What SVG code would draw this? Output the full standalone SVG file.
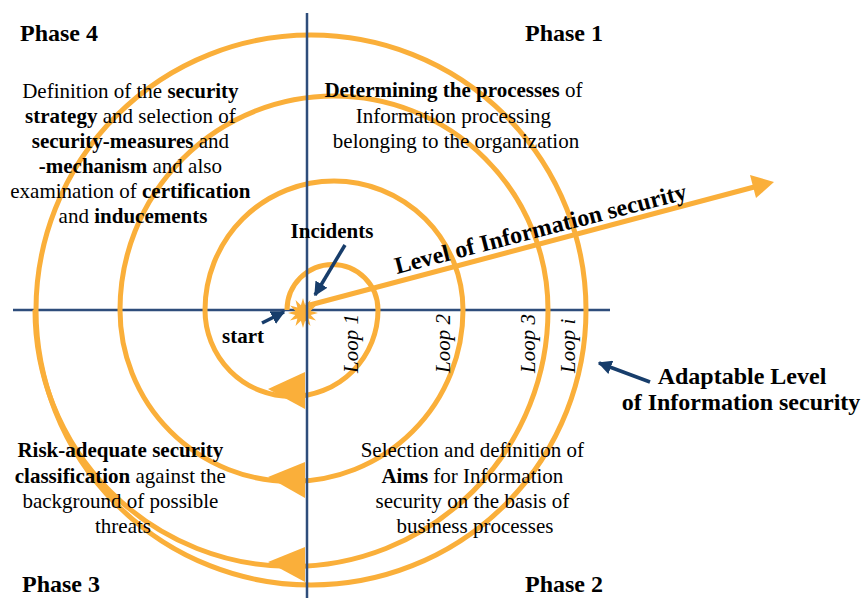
<svg xmlns="http://www.w3.org/2000/svg" width="866" height="598" viewBox="0 0 866 598">
<style>
.h{font-size:24px;font-weight:bold}
.b{font-size:21px}
.bold{font-weight:bold}
.loop{font-size:21px;font-style:italic}
.sp{fill:none;stroke:#FAAF3A;stroke-width:5}
.ax{stroke:#2E4D7B;stroke-width:2.5;fill:none}
.bl{stroke:#173D6B;stroke-width:3.5;fill:none}
.tri{fill:#FAAF3A}
</style>
<defs>
<marker id="ah" viewBox="0 0 10 10" refX="9" refY="5" markerWidth="4" markerHeight="4" orient="auto" markerUnits="strokeWidth">
<path d="M0,0 L10,5 L0,10 z" fill="#173D6B"/>
</marker>
</defs>
<rect width="866" height="598" fill="#fff"/>
<g id="axis-h"><line class="ax" x1="13" y1="310" x2="610" y2="310"/></g>
<g id="spiral">
<path class="sp" d="M287,310 A45.5,45.5 0 0 1 378,310 A86.5,86.5 0 0 1 205,310 A129,129 0 0 1 463,310 A171.5,171.5 0 0 1 120,310 A214,214 0 0 1 548,310 A256.5,256.5 0 0 1 35,310"/>
<circle class="sp" cx="311" cy="310" r="275"/>
<polygon class="tri" points="305,372 305,409 268,389"/>
<polygon class="tri" points="305,462 305,498 268,477"/>
<polygon class="tri" points="305,547 305,582 268,562"/>
</g>
<g id="level-arrow">
<line x1="306" y1="306" x2="758" y2="186" stroke="#FAAF3A" stroke-width="5"/>
<polygon class="tri" points="774,182 750,175 756,198"/>
</g>
<g id="star">
<polygon fill="#FAAF3A" points="318,313 310.7,315.1 316,320.5 308.6,318.6 310.5,326 305.1,320.7 303,328 300.9,320.7 295.5,326 297.4,318.6 290,320.5 295.3,315.1 288,313 295.3,310.9 290,305.5 297.4,307.4 295.5,300 300.9,305.3 303,298 305.1,305.3 310.5,300 308.6,307.4 316,305.5 310.7,310.9"/>
</g>
<g id="axis-v"><line class="ax" x1="307" y1="13" x2="307" y2="598"/></g>
<g id="connectors">
<line class="bl" x1="345" y1="245" x2="315" y2="295" marker-end="url(#ah)"/>
<line class="bl" x1="262" y1="323" x2="284" y2="312" marker-end="url(#ah)"/>
<line class="bl" x1="650" y1="382" x2="599" y2="363" marker-end="url(#ah)"/>
</g>
<g id="phase4">
<text class="h" font-family="Liberation Serif, serif" x="20" y="41">Phase 4</text>
<text class="b" font-family="Liberation Serif, serif" text-anchor="middle">
<tspan x="133" y="98">Definition of the <tspan class="bold">security</tspan></tspan>
<tspan x="133" y="123"><tspan class="bold">strategy</tspan> and selection of</tspan>
<tspan x="133" y="148"><tspan class="bold">security-measures</tspan> and</tspan>
<tspan x="133" y="173"><tspan class="bold">-mechanism</tspan> and also</tspan>
<tspan x="133" y="198">examination of <tspan class="bold">certification</tspan></tspan>
<tspan x="133" y="223">and <tspan class="bold">inducements</tspan></tspan>
</text>
</g>
<g id="phase1">
<text class="h" font-family="Liberation Serif, serif" x="525" y="41">Phase 1</text>
<text class="b" font-family="Liberation Serif, serif" text-anchor="middle">
<tspan x="456" y="97"><tspan class="bold">Determining the processes</tspan> of</tspan>
<tspan x="456" y="123">Information processing</tspan>
<tspan x="456" y="148">belonging to the organization</tspan>
</text>
</g>
<g id="phase3">
<text class="h" font-family="Liberation Serif, serif" x="22" y="592">Phase 3</text>
<text class="b" font-family="Liberation Serif, serif" text-anchor="middle">
<tspan x="123" y="457"><tspan class="bold">Risk-adequate security</tspan></tspan>
<tspan x="123" y="483"><tspan class="bold">classification</tspan> against the</tspan>
<tspan x="123" y="508">background of possible</tspan>
<tspan x="123" y="533">threats</tspan>
</text>
</g>
<g id="phase2">
<text class="h" font-family="Liberation Serif, serif" x="525" y="592">Phase 2</text>
<text class="b" font-family="Liberation Serif, serif" text-anchor="middle">
<tspan x="475" y="457">Selection and definition of</tspan>
<tspan x="475" y="483"><tspan class="bold">Aims</tspan> for Information</tspan>
<tspan x="475" y="508">security on the basis of</tspan>
<tspan x="475" y="533">business processes</tspan>
</text>
</g>
<g id="incidents"><text class="b bold" font-family="Liberation Serif, serif" x="332" y="238" text-anchor="middle">Incidents</text></g>
<g id="start"><text class="b bold" font-family="Liberation Serif, serif" x="243" y="343" text-anchor="middle">start</text></g>
<g id="level-label"><text class="h" font-family="Liberation Serif, serif" transform="translate(397,274) rotate(-14.5)">Level of Information security</text></g>
<g id="adaptable">
<text class="h" font-family="Liberation Serif, serif" text-anchor="middle"><tspan x="742" y="384">Adaptable Level</tspan><tspan x="741" y="410">of Information security</tspan></text>
</g>
<g id="loops">
<text class="loop" font-family="Liberation Serif, serif" transform="translate(358,373) rotate(-90)">Loop 1</text>
<text class="loop" font-family="Liberation Serif, serif" transform="translate(450,373) rotate(-90)">Loop 2</text>
<text class="loop" font-family="Liberation Serif, serif" transform="translate(535,373) rotate(-90)">Loop 3</text>
<text class="loop" font-family="Liberation Serif, serif" transform="translate(575,373) rotate(-90)">Loop i</text>
</g>
</svg>
